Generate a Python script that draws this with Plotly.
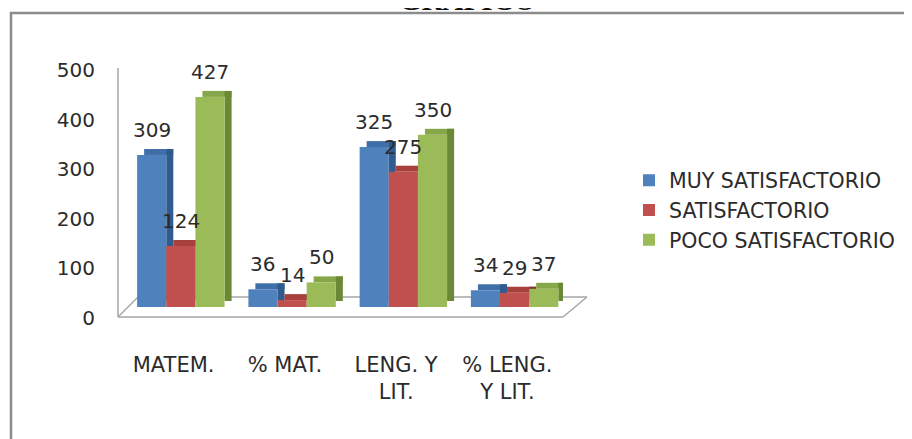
import plotly.graph_objects as go

# ---- data ----
categories = ["MATEM.", "% MAT.", "LENG. Y<br>LIT.", "% LENG.<br>Y LIT."]
series_names = ["MUY SATISFACTORIO", "SATISFACTORIO", "POCO SATISFACTORIO"]
muy_satisfactorio = [309, 36, 325, 34]
satisfactorio = [124, 14, 275, 29]
poco_satisfactorio = [427, 50, 350, 37]
y_ticks = [0, 100, 200, 300, 400, 500]
title_text = "GRÁFICO"

# ---- styling ----
front_colors = ["#4F81BD", "#C0504D", "#9BBB59"]
top_colors = ["#3F6FA8", "#A8413E", "#86A64A"]
side_colors = ["#2F5B8E", "#8A3431", "#6B8836"]
FONT = "DejaVu Sans"
TEXT = "#2b2b2b"

PAGE = 8                       # body margin of the html page
W, H = 912 - PAGE, 439 - PAGE
L, R, T, B = 118, 563, 61, 318   # plot area in page pixels
pw, ph = R - L, B - T


def px(x):
    return (x - L) / pw


def py(y):
    return (B - y) / ph


bar_w = 0.262
offsets = [-0.328, -0.066, 0.196]
dx = 0.063      # 3-D depth along x (category units)
dy = 12.2       # 3-D depth along y (value units)

xs = list(range(len(categories)))
all_series = [muy_satisfactorio, satisfactorio, poco_satisfactorio]

fig = go.Figure()
# invisible trace so that the tick axis "y" is drawn
fig.add_trace(go.Scatter(x=[xs[0]] * len(y_ticks), y=y_ticks, mode="markers",
                         marker=dict(opacity=0), showlegend=False, hoverinfo="skip",
                         yaxis="y"))
for i, (name, vals) in enumerate(zip(series_names, all_series)):
    # top face
    fig.add_trace(go.Bar(
        x=xs, y=[dy] * len(vals), base=vals, offset=offsets[i] + dx, width=bar_w,
        marker=dict(color=top_colors[i], line=dict(width=0)),
        yaxis="y2", showlegend=False, hoverinfo="skip"))
    # side face
    fig.add_trace(go.Bar(
        x=xs, y=vals, base=[dy] * len(vals), offset=offsets[i] + bar_w, width=dx,
        marker=dict(color=side_colors[i], line=dict(width=0)),
        yaxis="y2", showlegend=False, hoverinfo="skip"))
    # front face (the real bar)
    fig.add_trace(go.Bar(
        x=xs, y=vals, offset=offsets[i], width=bar_w, name=name,
        marker=dict(color=front_colors[i], line=dict(width=0)),
        yaxis="y2"))

annotations = []
for i, vals in enumerate(all_series):
    for j, v in enumerate(vals):
        annotations.append(dict(
            x=j + offsets[i] + bar_w / 2, y=v, xref="x", yref="y2",
            text=str(v), showarrow=False, yanchor="middle", yshift=25,
            font=dict(family=FONT, size=20, color=TEXT)))

annotations.append(dict(
    x=px(467), y=py(18), xref="paper", yref="paper", text="<b>" + title_text + "</b>",
    showarrow=False, xanchor="center", yanchor="bottom",
    font=dict(family="Liberation Serif", size=29, color="#111111")))

floor_col = "#a6a6a6"
shapes = [
    # outer frame
    dict(type="rect", xref="paper", yref="paper", x0=px(11), x1=px(940), y0=py(470), y1=py(13),
         line=dict(color="#8c8c8c", width=2.5), fillcolor="rgba(0,0,0,0)", layer="below"),
    # back wall / axis line
    dict(type="line", xref="paper", yref="paper", x0=px(118), x1=px(118), y0=py(317), y1=py(68),
         line=dict(color=floor_col, width=1.5), layer="below"),
    # floor
    dict(type="line", xref="paper", yref="paper", x0=px(118), x1=px(563), y0=py(317), y1=py(317),
         line=dict(color=floor_col, width=1.5), layer="below"),
    dict(type="line", xref="paper", yref="paper", x0=px(118), x1=px(138), y0=py(317), y1=py(297),
         line=dict(color=floor_col, width=1.5), layer="below"),
    dict(type="line", xref="paper", yref="paper", x0=px(563), x1=px(587), y0=py(317), y1=py(297),
         line=dict(color=floor_col, width=1.5), layer="below"),
    dict(type="line", xref="paper", yref="paper", x0=px(138), x1=px(587), y0=py(297), y1=py(297),
         line=dict(color=floor_col, width=1.5), layer="below"),
]

fig.update_layout(
    width=W, height=H,
    margin=dict(l=L - PAGE, r=W - (R - PAGE), t=T - PAGE, b=H - (B - PAGE), pad=0),
    paper_bgcolor="white", plot_bgcolor="rgba(0,0,0,0)",
    barmode="overlay",
    font=dict(family=FONT, size=20, color=TEXT),
    xaxis=dict(range=[-0.5, len(categories) - 0.5], tickvals=xs, ticktext=categories,
               showgrid=False, zeroline=False, showline=False, ticks="",
               tickfont=dict(family=FONT, size=21, color=TEXT), ticklabelstandoff=32),
    yaxis=dict(range=[0, 518.1], tickvals=y_ticks, showgrid=False, zeroline=False,
               showline=False, ticks="", tickfont=dict(family=FONT, size=20, color=TEXT),
               ticklabelstandoff=22),
    yaxis2=dict(range=[-22.36, 500], overlaying="y", visible=False),
    legend=dict(x=px(629), xanchor="left", y=py(210), yanchor="middle",
                font=dict(family=FONT, size=20.5, color=TEXT), itemwidth=30,
                bgcolor="rgba(0,0,0,0)", traceorder="normal"),
    annotations=annotations,
    shapes=shapes,
    showlegend=True,
)

fig.write_html("out.html")
